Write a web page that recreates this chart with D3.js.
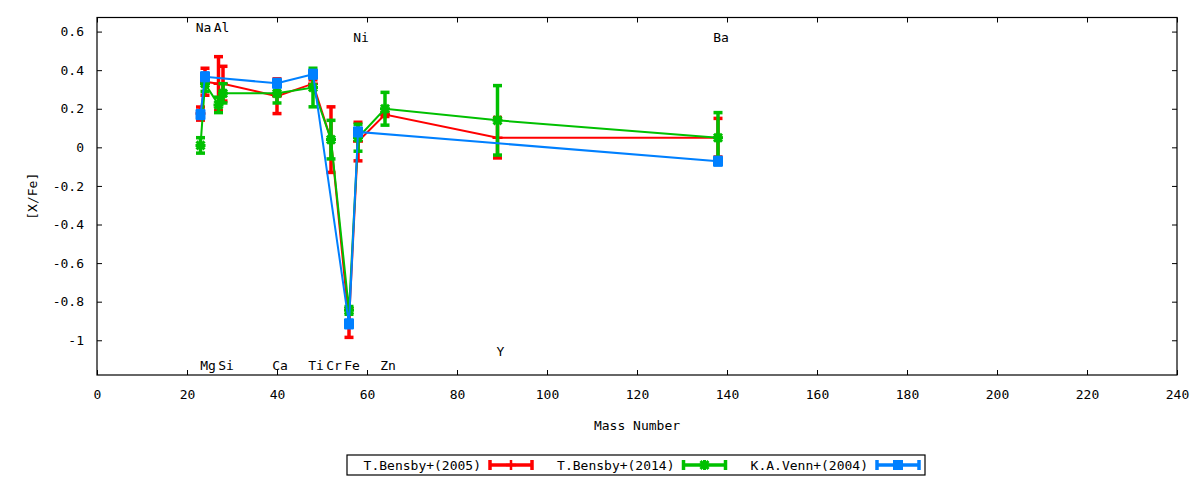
<!DOCTYPE html>
<html>
<head>
<meta charset="utf-8">
<script src="https://cdn.jsdelivr.net/npm/d3@7"></script>
<style>
  body { margin: 0; background: #fff; }
  text { font-family: "DejaVu Sans Mono", monospace; font-size: 13px; fill: #000; }
</style>
</head>
<body>
<svg class="chart"></svg>
<script>
// element abundances [X/Fe] against mass number
let redMass = [23, 24, 27, 28, 40, 48, 52, 56, 58, 64, 89, 138];
let redXFe = [0.175, 0.34, 0.33, 0.33, 0.265, 0.33, 0.04, -0.91, 0.03, 0.17, 0.05, 0.05];
let redErr = [0.034, 0.07, 0.14, 0.09, 0.09, 0.02, 0.17, 0.075, 0.1, 0.01, 0.105, 0.1];

let greenMass = [23, 24, 27, 28, 40, 48, 52, 56, 58, 64, 89, 138];
let greenXFe = [0.01, 0.33, 0.22, 0.28, 0.28, 0.31, 0.04, -0.845, 0.05, 0.2, 0.14, 0.05];
let greenErr = [0.04, 0.04, 0.04, 0.05, 0.05, 0.1, 0.1, 0.02, 0.07, 0.085, 0.18, 0.13];

let blueMass = [23, 24, 40, 48, 56, 58, 138];
let blueXFe = [0.17, 0.366, 0.332, 0.379, -0.915, 0.08, -0.072];
let blueErr = [0.02, 0.02, 0.02, 0.02, 0.02, 0.02, 0.02];

let seriesNames = ["T.Bensby+(2005)", "T.Bensby+(2014)", "K.A.Venn+(2004)"];

let elemNames = ["Na", "Al", "Ni", "Ba", "Mg", "Si", "Ca", "Ti", "Cr", "Fe", "Zn", "Y"];
let elemMass = [23, 27, 58, 138, 24, 28, 40, 48, 52, 56, 64, 89];
let elemY = [0.62, 0.62, 0.57, 0.57, -1.13, -1.13, -1.13, -1.13, -1.13, -1.13, -1.13, -1.06];

let xTicks = [0, 20, 40, 60, 80, 100, 120, 140, 160, 180, 200, 220, 240];
let yTicks = [-1, -0.8, -0.6, -0.4, -0.2, 0, 0.2, 0.4, 0.6];

let width = 1200, height = 480;
let plotLeft = 97, plotRight = 1177, plotTop = 17.5, plotBottom = 375;

let svg = d3.select(".chart")
    .attr("width", width)
    .attr("height", height);

let x = d3.scaleLinear().domain([0, 240]).range([plotLeft, plotRight]);
let y = d3.scaleLinear().domain([-1.18, 0.673]).range([plotBottom, plotTop]);

let fmt = d => String(+d.toFixed(1));

// axes with inward ticks, mirrored on top and right
svg.append("g")
    .attr("transform", "translate(0," + plotBottom + ")")
    .call(d3.axisBottom(x).tickValues(xTicks).tickSize(-5).tickPadding(15).tickFormat(fmt));
svg.append("g")
    .attr("transform", "translate(0," + plotTop + ")")
    .call(d3.axisTop(x).tickValues(xTicks).tickSize(-5).tickFormat(""));
svg.append("g")
    .attr("transform", "translate(" + plotLeft + ",0)")
    .call(d3.axisLeft(y).tickValues(yTicks).tickSize(-5).tickPadding(13).tickFormat(fmt));
svg.append("g")
    .attr("transform", "translate(" + plotRight + ",0)")
    .call(d3.axisRight(y).tickValues(yTicks).tickSize(-5).tickFormat(""));

svg.selectAll(".domain").remove();
svg.selectAll(".tick line").attr("stroke", "#000");
svg.selectAll(".tick text")
    .style("font-family", "DejaVu Sans Mono")
    .style("font-size", "13px")
    .attr("fill", "#000");

svg.append("rect")
    .attr("x", plotLeft).attr("y", plotTop)
    .attr("width", plotRight - plotLeft).attr("height", plotBottom - plotTop)
    .attr("fill", "none").attr("stroke", "#000").attr("stroke-width", 1.2);

svg.append("text")
    .attr("x", (plotLeft + plotRight) / 2).attr("y", 425)
    .attr("text-anchor", "middle").attr("dominant-baseline", "central")
    .text("Mass Number");

svg.append("text")
    .attr("transform", "translate(32," + (plotTop + plotBottom) / 2 + ") rotate(-90)")
    .attr("text-anchor", "middle").attr("dominant-baseline", "central")
    .text("[X/Fe]");

// element labels
svg.append("g").selectAll("text")
    .data(elemNames)
    .enter()
    .append("text")
    .attr("x", (d, i) => x(elemMass[i]) + 3)
    .attr("y", (d, i) => y(elemY[i]))
    .attr("text-anchor", "middle")
    .attr("dominant-baseline", "central")
    .text(d => d);

let series = [
    {mass: redMass, val: redXFe, err: redErr, color: "#ff0000", point: "plus"},
    {mass: greenMass, val: greenXFe, err: greenErr, color: "#00c000", point: "star"},
    {mass: blueMass, val: blueXFe, err: blueErr, color: "#0080ff", point: "square"}
];

function drawPoint(g, px, py, s) {
    if (s.point == "square") {
        g.append("rect")
            .attr("x", px - 5).attr("y", py - 5)
            .attr("width", 10).attr("height", 10)
            .attr("fill", s.color);
    } else if (s.point == "plus") {
        g.append("path")
            .attr("d", "M" + (px - 5) + "," + py + "h10M" + px + "," + (py - 5) + "v10")
            .attr("stroke", s.color).attr("stroke-width", 2.5).attr("fill", "none");
    } else {
        g.append("path")
            .attr("d", "M" + (px - 5) + "," + py + "h10M" + px + "," + (py - 5) + "v10" +
                "M" + (px - 4) + "," + (py - 4) + "l8,8M" + (px - 4) + "," + (py + 4) + "l8,-8")
            .attr("stroke", s.color).attr("stroke-width", 3).attr("fill", "none");
    }
}

let line = d3.line()
    .x(d => x(d[0]))
    .y(d => y(d[1]));

series.forEach(s => {
    let g = svg.append("g");
    let pts = s.mass.map((m, i) => [m, s.val[i], s.err[i]]);

    g.append("path")
        .attr("d", line(pts))
        .attr("fill", "none")
        .attr("stroke", s.color)
        .attr("stroke-width", 2);

    pts.forEach(p => {
        let px = x(p[0]), y1 = y(p[1] + p[2]), y2 = y(p[1] - p[2]);
        g.append("line")
            .attr("x1", px).attr("x2", px).attr("y1", y1).attr("y2", y2)
            .attr("stroke", s.color).attr("stroke-width", 3.5);
        [y1, y2].forEach(cy => {
            g.append("line")
                .attr("x1", px - 4.5).attr("x2", px + 4.5).attr("y1", cy).attr("y2", cy)
                .attr("stroke", s.color).attr("stroke-width", 3.5);
        });
    });

    pts.forEach(p => drawPoint(g, x(p[0]), y(p[1]), s));
});

// legend
let legend = svg.append("g");
legend.append("rect")
    .attr("x", 347).attr("y", 455).attr("width", 578).attr("height", 20)
    .attr("fill", "none").attr("stroke", "#000").attr("stroke-width", 1.2);

series.forEach((s, i) => {
    let tx = 481 + i * 193.5, sx = tx + 9, ly = 465;
    legend.append("text")
        .attr("x", tx).attr("y", ly)
        .attr("text-anchor", "end").attr("dominant-baseline", "central")
        .text(seriesNames[i]);
    legend.append("line")
        .attr("x1", sx).attr("x2", sx + 42).attr("y1", ly).attr("y2", ly)
        .attr("stroke", s.color).attr("stroke-width", 3.5);
    [sx, sx + 42].forEach(cx => {
        legend.append("line")
            .attr("x1", cx).attr("x2", cx).attr("y1", ly - 5).attr("y2", ly + 5)
            .attr("stroke", s.color).attr("stroke-width", 3.5);
    });
    drawPoint(legend, sx + 21, ly, s);
});
</script>
</body>
</html>
